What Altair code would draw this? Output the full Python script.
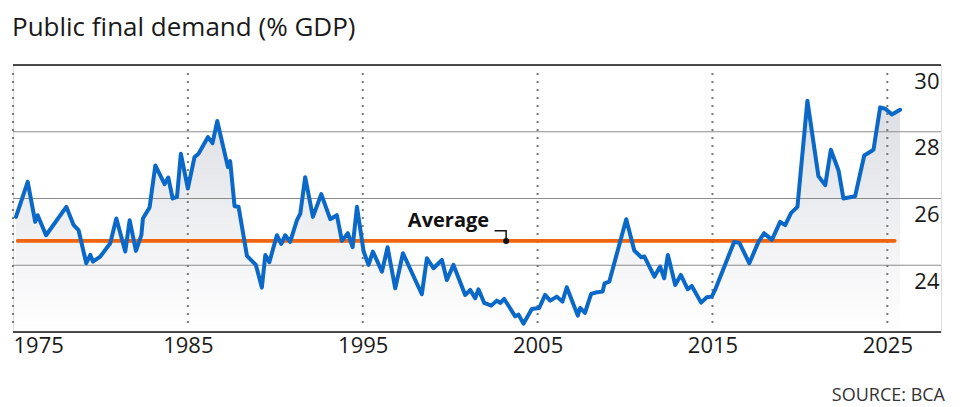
import altair as alt
import pandas as pd

# ---- data ----
years = [1975.17, 1975.84, 1976.27, 1976.41, 1976.89, 1978.05, 1978.47, 1978.75, 1979.19, 1979.42,
         1979.57, 1979.99, 1980.56, 1980.91, 1981.42, 1981.67, 1982.03, 1982.34, 1982.43, 1982.81,
         1983.14, 1983.67, 1983.88, 1984.13, 1984.38, 1984.60, 1985.00, 1985.38, 1985.61, 1986.15,
         1986.41, 1986.68, 1987.29, 1987.42, 1987.67, 1987.90, 1988.38, 1988.89, 1989.23, 1989.43,
         1989.66, 1990.09, 1990.34, 1990.57, 1990.85, 1991.24, 1991.43, 1991.71, 1992.15, 1992.63,
         1993.14, 1993.52, 1993.81, 1994.15, 1994.42, 1994.67, 1995.05, 1995.33, 1995.58, 1996.10,
         1996.42, 1996.86, 1997.30, 1998.38, 1998.67, 1999.05, 1999.53, 1999.81, 2000.19, 2000.86,
         2001.15, 2001.43, 2001.62, 2001.95, 2002.35, 2002.67, 2002.86, 2003.09, 2003.72, 2003.91,
         2004.19, 2004.67, 2005.09, 2005.43, 2005.72, 2006.10, 2006.42, 2006.67, 2007.30, 2007.43,
         2007.71, 2008.06, 2008.39, 2008.72, 2008.83, 2009.10, 2010.07, 2010.53, 2010.93, 2011.11,
         2011.68, 2012.01, 2012.24, 2012.45, 2012.87, 2013.19, 2013.59, 2013.82, 2014.35, 2014.68,
         2014.96, 2015.15, 2016.24, 2016.54, 2017.11, 2017.63, 2017.95, 2018.40, 2018.87, 2019.16,
         2019.50, 2019.86, 2020.43, 2021.06, 2021.45, 2021.77, 2022.21, 2022.49, 2023.16, 2023.68,
         2024.21, 2024.59, 2024.88, 2025.26, 2025.73]
values = [25.45, 26.50, 25.30, 25.50, 24.90, 25.75, 25.20, 25.05, 24.06, 24.31,
          24.11, 24.26, 24.66, 25.40, 24.41, 25.35, 24.43, 24.90, 25.40, 25.73,
          26.99, 26.43, 26.63, 26.00, 26.05, 27.34, 26.30, 27.24, 27.34, 27.84,
          27.66, 28.32, 26.94, 27.12, 25.77, 25.75, 24.28, 24.01, 23.33, 24.31,
          24.09, 24.90, 24.64, 24.90, 24.70, 25.35, 25.55, 26.64, 25.45, 26.13,
          25.38, 25.50, 24.73, 24.96, 24.54, 25.75, 24.42, 24.01, 24.41, 23.81,
          24.54, 23.31, 24.36, 23.13, 24.21, 23.91, 24.16, 23.56, 24.01, 23.11,
          23.26, 23.01, 23.28, 22.87, 22.79, 22.94, 22.87, 22.99, 22.47, 22.52,
          22.25, 22.69, 22.72, 23.11, 22.94, 23.06, 22.91, 23.34, 22.49, 22.72,
          22.57, 23.14, 23.19, 23.21, 23.46, 23.51, 25.38, 24.44, 24.24, 24.26,
          23.66, 23.96, 23.61, 24.31, 23.41, 23.71, 23.28, 23.38, 22.88, 23.04,
          23.06, 23.26, 24.70, 24.67, 24.06, 24.70, 24.96, 24.76, 25.30, 25.20,
          25.57, 25.75, 28.93, 26.67, 26.40, 27.46, 26.84, 26.00, 26.07, 27.29,
          27.46, 28.73, 28.69, 28.52, 28.66]

decade_ticks = [1975, 1985, 1995, 2005, 2015, 2025]
grid_values = [24, 26, 28]
border_values = [22, 30]
y_ticks = [24, 26, 28, 30]

average_value = 24.73
average_start = 1975.26
average_end = 2025.43

label_text = "Average"
label_x = 2002.23
label_y = 25.15
leader_x = [2002.54, 2003.2, 2003.2]
leader_y = [25.03, 25.03, 24.73]

title_text = "Public final demand (% GDP)"
source_text = "SOURCE: BCA"

# ---- layout / style ----
W, H = 928, 267
FONT = "Open Sans"
BLUE = "#0a68c8"
ORANGE = "#f0640f"

df = pd.DataFrame({"year": years, "value": values})
df_dec = pd.DataFrame({"year": decade_ticks})
df_grid = pd.DataFrame({"v": grid_values})
df_border = pd.DataFrame({"v": border_values})
df_avg = pd.DataFrame({"x1": [average_start], "x2": [average_end], "v": [average_value]})
df_lead = pd.DataFrame({"lx": leader_x, "ly": leader_y, "o": list(range(len(leader_x)))})
df_dot = pd.DataFrame({"lx": [leader_x[-1]], "ly": [leader_y[-1]]})
df_lab = pd.DataFrame({"lx": [label_x], "ly": [label_y], "t": [label_text]})
df_src = pd.DataFrame({"t": [source_text]})

xs = alt.Scale(domain=[1975, 2028.07], nice=False, zero=False)
ys = alt.Scale(domain=[22, 30], nice=False, zero=False)

x_axis = alt.Axis(values=decade_ticks, format="d", labelFontSize=22, labelFont=FONT,
                  labelColor="#1a1a1a", domain=False, ticks=False, grid=False,
                  labelPadding=3, labelFlush=True, title=None)
y_axis = alt.Axis(orient="right", values=y_ticks, format="d", labelAlign="right",
                  labelPadding=-2, tickSize=0, ticks=False, domain=False, grid=False,
                  labelOffset=16, labelFontSize=22, labelFont=FONT, labelColor="#1a1a1a",
                  labelBaseline="middle", title=None)


def X(field):
    return alt.X(field, type="quantitative", scale=xs, axis=x_axis, title=None)


def Y(field):
    return alt.Y(field, type="quantitative", scale=ys, axis=y_axis, title=None)


area = alt.Chart(df).mark_area(
    color=alt.LinearGradient(
        gradient="linear",
        stops=[alt.GradientStop(color="#dcdee3", offset=0),
               alt.GradientStop(color="#ffffff", offset=1)],
        x1=1, x2=1, y1=0, y2=1),
    interpolate="linear",
).encode(x=X("year"), y=Y("value"), y2=alt.Y2(datum=22))

grid = alt.Chart(df_grid).mark_rule(color="#8c8c8c", strokeWidth=1.2).encode(y=Y("v"))
border = alt.Chart(df_border).mark_rule(color="#111111", strokeWidth=1.5).encode(y=Y("v"))

vlines = alt.Chart(df_dec).mark_rule(color="#777777", strokeWidth=2, strokeDash=[2, 6]).encode(
    x=X("year"), y=alt.value(8), y2=alt.value(H - 4))

avg = alt.Chart(df_avg).mark_rule(color=ORANGE, strokeWidth=3.6, strokeCap="round").encode(
    x=X("x1"), x2="x2", y=Y("v"))

line = alt.Chart(df).mark_line(color=BLUE, strokeWidth=4, strokeJoin="round",
                                strokeCap="round").encode(x=X("year"), y=Y("value"))

leader = alt.Chart(df_lead).mark_line(color="#111111", strokeWidth=1.5).encode(
    x=X("lx"), y=Y("ly"), order="o:Q")
dot = alt.Chart(df_dot).mark_circle(color="#111111", opacity=1, size=36).encode(
    x=X("lx"), y=Y("ly"))
label = alt.Chart(df_lab).mark_text(font=FONT, fontSize=20, fontWeight="bold", align="right",
                                    baseline="alphabetic", color="#111111").encode(
    x=X("lx"), y=Y("ly"), text="t:N")

source = alt.Chart(df_src).mark_text(font=FONT, fontSize=18, align="right",
                                     baseline="alphabetic", color="#333333").encode(
    x=alt.value(W + 4), y=alt.value(H + 69), text="t:N")

chart = alt.layer(area, grid, border, vlines, avg, line, leader, dot, label, source).properties(
    width=W, height=H,
    title=alt.TitleParams(title_text, anchor="start", font=FONT, fontSize=26,
                          fontWeight="normal", color="#1a1a1a", offset=23),
    autosize=alt.AutoSizeParams(type="none"),
    padding={"left": 5, "top": 57, "right": 8, "bottom": 75},
).configure_view(stroke=None).configure(background="white")

chart.save("out.html", embed_options={"renderer": "svg", "actions": False})
